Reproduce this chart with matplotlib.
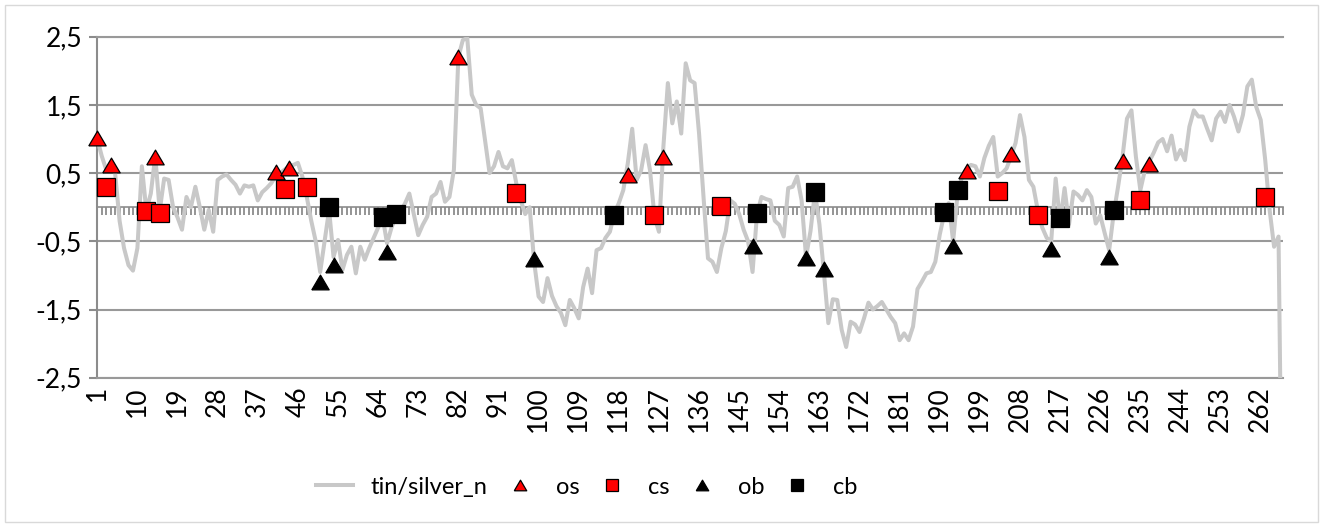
import matplotlib.pyplot as plt
import numpy as np

plt.rcParams['font.family'] = ['Lato', 'DejaVu Sans']

# tin/silver_n, one value per category (1..267)
tin_silver = [
    1.0, 0.75, 0.55, 0.6, 0.5, -0.2, -0.6, -0.85, -0.93, -0.6,
    0.6, -0.05, 0.2, 0.75, -0.05, 0.42, 0.4, 0.0, -0.15, -0.33,
    0.15, 0.0, 0.3, 0.0, -0.33, -0.04, -0.36, 0.4, 0.45, 0.48,
    0.4, 0.33, 0.2, 0.32, 0.3, 0.32, 0.1, 0.22, 0.28, 0.35,
    0.45, 0.5, 0.55, 0.6, 0.62, 0.65, 0.45, 0.15, -0.2, -0.5,
    -0.95, -0.5, -0.04, -0.73, -0.48, -0.92, -0.7, -0.58, -0.97, -0.58,
    -0.77, -0.6, -0.45, -0.3, -0.14, -0.53, -0.3, -0.14, -0.05, 0.05,
    0.2, -0.1, -0.41, -0.26, -0.14, 0.15, 0.2, 0.37, 0.08, 0.15,
    0.55, 2.2, 2.45, 2.48, 1.65, 1.5, 1.45, 0.98, 0.5, 0.6,
    0.81, 0.6, 0.57, 0.69, 0.35, 0.1, -0.1, 0.0, -0.8, -1.31,
    -1.39, -1.04, -1.3, -1.45, -1.55, -1.73, -1.36, -1.48, -1.63, -1.17,
    -0.9, -1.26, -0.63, -0.6, -0.45, -0.36, -0.09, 0.06, 0.25, 0.64,
    1.15, 0.4, 0.54, 0.91, 0.54, -0.14, -0.36, 0.89, 1.82, 1.23,
    1.55, 1.08, 2.11, 1.86, 1.82, 1.08, 0.15, -0.75, -0.8, -0.95,
    -0.6, -0.35, 0.1, 0.05, -0.1, -0.33, -0.5, -0.95, -0.1, 0.15,
    0.12, 0.1, -0.2, -0.26, -0.43, 0.28, 0.3, 0.45, 0.1, -0.73,
    -0.35, 0.22, -0.25, -0.95, -1.7, -1.35, -1.36, -1.8, -2.05, -1.68,
    -1.72, -1.83, -1.63, -1.4, -1.5, -1.45, -1.39, -1.5, -1.61, -1.7,
    -1.95, -1.85, -1.95, -1.75, -1.2, -1.09, -0.97, -0.95, -0.8, -0.4,
    -0.1, 0.06, -0.5, 0.2, 0.45, 0.56, 0.62, 0.6, 0.45, 0.72,
    0.9, 1.03, 0.45, 0.5, 0.57, 0.75, 0.94, 1.35, 1.03, 0.4,
    0.3, -0.05, -0.3, -0.45, -0.5, 0.42, -0.22, 0.28, -0.25, 0.23,
    0.18, 0.1, 0.25, 0.15, -0.24, -0.12, -0.38, -0.63, -0.1, 0.3,
    0.74, 1.3, 1.42, 0.74, 0.25, 0.54, 0.67, 0.8, 0.95, 1.0,
    0.82, 1.05, 0.7, 0.84, 0.69, 1.18, 1.42, 1.33, 1.33, 1.15,
    0.98, 1.3, 1.4, 1.25, 1.5, 1.33, 1.11, 1.35, 1.77, 1.87,
    1.47, 1.28, 0.7, -0.04, -0.58, -0.43, -6.0,
]
categories = np.arange(1, len(tin_silver) + 1)

os_x = [1, 4, 14, 41, 44, 82, 120, 128, 196, 206, 231, 237]
os_y = [1.02, 0.62, 0.74, 0.52, 0.57, 2.2, 0.47, 0.73, 0.53, 0.78, 0.68, 0.64]
cs_x = [3, 12, 15, 43, 48, 95, 126, 141, 203, 212, 235, 263]
cs_y = [0.29, -0.06, -0.09, 0.27, 0.29, 0.21, -0.12, 0.02, 0.24, -0.12, 0.1, 0.15]
ob_x = [51, 54, 66, 99, 148, 160, 164, 193, 215, 228]
ob_y = [-1.09, -0.85, -0.65, -0.76, -0.57, -0.75, -0.9, -0.57, -0.62, -0.73]
cb_x = [53, 65, 68, 117, 149, 162, 191, 194, 217, 229]
cb_y = [0.0, -0.15, -0.1, -0.12, -0.09, 0.22, -0.07, 0.25, -0.16, -0.04]

x_ticks = list(range(1, 263, 9))
y_ticks = [-2.5, -1.5, -0.5, 0.5, 1.5, 2.5]
y_labels = ['-2,5', '-1,5', '-0,5', '0,5', '1,5', '2,5']

W, H = 1324, 526
fig = plt.figure(figsize=(W / 100, H / 100), dpi=100)
ax = fig.add_axes([97.3 / W, 1 - 377.7 / H, (1283 - 97.3) / W, (377.7 - 36.7) / H])

grid_col = '#999999'
axis_col = '#8c8c8c'

# flatter triangle like Excel's
tri = [(-1, -0.85), (1, -0.85), (0, 0.85), (-1, -0.85)]

line, = ax.plot(categories, tin_silver, color='#c8c8c8', lw=2.9,
                label='tin/silver_n', zorder=3)
mk = dict(ls='none', ms=12.5, mec='black', mew=0.9, zorder=4, clip_on=False)
h_os, = ax.plot(os_x, os_y, marker=tri, mfc='#ff0000', label='os', **mk)
h_cs, = ax.plot(cs_x, cs_y, marker='s', mfc='#ff0000', label='cs', **mk)
h_ob, = ax.plot(ob_x, ob_y, marker=tri, mfc='black', label='ob', **mk)
h_cb, = ax.plot(cb_x, cb_y, marker='s', mfc='black', label='cb', **mk)

ax.set_xlim(1, 267)
ax.set_ylim(-2.5, 2.5)
ax.set_yticks(y_ticks, y_labels)
ax.set_xticks(x_ticks, [str(t) for t in x_ticks])
ax.grid(axis='y', color=grid_col, lw=1.5, zorder=1)
ax.set_axisbelow(True)

for s in ['top', 'bottom']:
    ax.spines[s].set_color(grid_col)
    ax.spines[s].set_linewidth(1.5)
ax.spines['right'].set_visible(False)
ax.spines['left'].set_color(axis_col)
ax.spines['left'].set_linewidth(1.5)

ax.tick_params(axis='y', length=6, width=1.5, color=axis_col, labelsize=19, pad=5)
ax.tick_params(axis='x', length=0, labelsize=19, labelrotation=90, pad=6)

# category axis crossing at zero, one tick per category
secax = ax.secondary_xaxis(0.5)
secax.set_xticks(categories)
secax.tick_params(direction='in', length=6, width=1.3, color=axis_col,
                  labeltop=False, labelbottom=False)
for s in secax.spines.values():
    s.set_color(axis_col)
    s.set_linewidth(1.2)

fig.legend(handles=[line, h_os, h_cs, h_ob, h_cb], loc='center',
           bbox_to_anchor=(0.443, 0.074), ncol=5, frameon=False, fontsize=17,
           markerscale=0.72, handlelength=1.55, handletextpad=0.75,
           columnspacing=0.6)

# chart area border
fig.patches.append(plt.Rectangle((5 / W, 4 / H), 1313 / W, 517 / H,
                                 transform=fig.transFigure, fill=False,
                                 edgecolor='#d9d9d9', lw=1))

fig.savefig('out.png', dpi=100)
